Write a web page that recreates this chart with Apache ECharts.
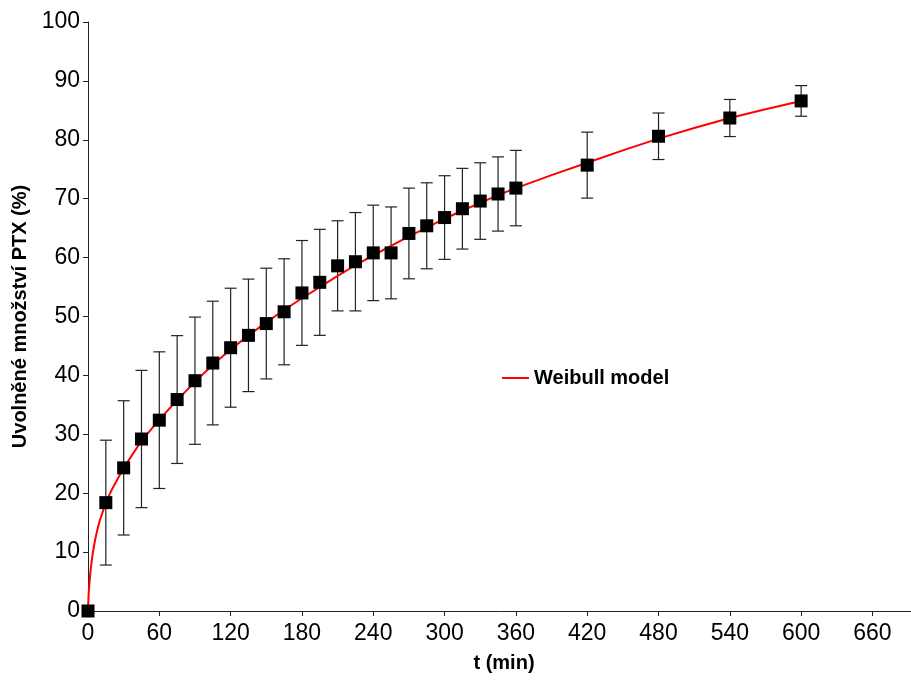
<!DOCTYPE html>
<html>
<head>
<meta charset="utf-8">
<script src="https://cdn.jsdelivr.net/npm/echarts@6/dist/echarts.min.js"></script>
<style>
  html, body { margin: 0; padding: 0; background: #fff; }
  #chart { width: 911px; height: 681px; }
</style>
</head>
<body>
<div id="chart"></div>
<script>
// Sampling times (min)
const times = [0, 15, 30, 45, 60, 75, 90, 105, 120, 135, 150, 165, 180, 195, 210, 225, 240, 255, 270, 285, 300, 315, 330, 345, 360, 420, 480, 540, 600];
// Mean released amount of PTX (%)
const released = [0, 18.4, 24.3, 29.2, 32.4, 35.9, 39.1, 42.1, 44.7, 46.8, 48.8, 50.8, 54.0, 55.8, 58.6, 59.3, 60.8, 60.8, 64.1, 65.4, 66.8, 68.3, 69.6, 70.8, 71.8, 75.7, 80.6, 83.7, 86.6];
// Standard deviation (%)
const sd = [0, 10.6, 11.4, 11.65, 11.6, 10.85, 10.8, 10.5, 10.1, 9.55, 9.4, 9.0, 8.9, 9.0, 7.65, 8.35, 8.1, 7.8, 7.7, 7.3, 7.1, 6.85, 6.5, 6.3, 6.4, 5.6, 3.95, 3.15, 2.6];

// Weibull model curve
const modelT = [0, 0.5, 1, 2, 3, 4, 6, 8, 10, 15, 20, 30, 45, 60, 75, 90, 105, 120, 135, 150, 165, 180, 195, 210, 225, 240, 255, 270, 285, 300, 315, 330, 345, 360, 390, 420, 450, 480, 510, 540, 570, 600];
const modelY = [0, 2.8, 4.2, 6.6, 8.3, 9.8, 12.1, 13.9, 15.4, 18.4, 20.6, 24.3, 28.9, 32.5, 35.8, 38.9, 41.8, 44.4, 46.8, 49.0, 51.1, 53.1, 55.0, 56.9, 58.7, 60.4, 62.0, 63.6, 65.1, 66.6, 68.0, 69.3, 70.6, 71.8, 74.0, 76.1, 78.2, 80.2, 82.0, 83.7, 85.2, 86.6];

const xTicks = { min: 0, max: 700, interval: 60 };
const yTicks = { min: 0, max: 100, interval: 10 };

const FONT = '"Liberation Sans", Arial, sans-serif';

const points = times.map((t, i) => [t, released[i]]);
const bars = times.map((t, i) => [t, released[i] - sd[i], released[i] + sd[i]]);
const model = modelT.map((t, i) => [t, modelY[i]]);

const chart = echarts.init(document.getElementById('chart'), null, { renderer: 'canvas' });

chart.setOption({
  backgroundColor: '#ffffff',
  animation: false,
  // the x axis runs on slightly past the right edge of the canvas
  grid: { left: 88, top: 22, width: 832, height: 589, containLabel: false, outerBoundsMode: 'none' },
  legend: {
    left: 497,
    top: 363,
    data: [{ name: 'Weibull model', icon: 'rect' }],
    itemWidth: 27,
    itemHeight: 2,
    textStyle: { fontFamily: FONT, fontSize: 20, fontWeight: 'bold', color: '#000' }
  },
  xAxis: {
    type: 'value',
    min: xTicks.min,
    max: xTicks.max,
    interval: xTicks.interval,
    name: 't (min)',
    nameLocation: 'middle',
    nameGap: 42,
    nameTextStyle: { fontFamily: FONT, fontSize: 20, fontWeight: 'bold', color: '#000' },
    axisLine: { show: true, onZero: false, lineStyle: { color: '#222', width: 1 } },
    axisTick: { show: true, length: 5, lineStyle: { color: '#222' } },
    axisLabel: { fontFamily: FONT, fontSize: 23, color: '#000', margin: 11, showMaxLabel: false },
    splitLine: { show: false }
  },
  yAxis: {
    type: 'value',
    min: yTicks.min,
    max: yTicks.max,
    interval: yTicks.interval,
    name: 'Uvolněné množství PTX (%)',
    nameLocation: 'middle',
    nameGap: 55,
    nameRotate: 90,
    nameTextStyle: { fontFamily: FONT, fontSize: 20, fontWeight: 'bold', color: '#000' },
    axisLine: { show: true, onZero: false, lineStyle: { color: '#222', width: 1 } },
    axisTick: { show: true, length: 5, lineStyle: { color: '#222' } },
    axisLabel: { fontFamily: FONT, fontSize: 23, color: '#000', margin: 8 },
    splitLine: { show: false }
  },
  series: [
    {
      // vertical error bars with caps
      type: 'custom',
      name: 'sd',
      data: bars,
      z: 2,
      clip: false,
      renderItem: function (params, api) {
        const x = api.value(0);
        const lo = api.coord([x, api.value(1)]);
        const hi = api.coord([x, api.value(2)]);
        const half = 6;
        const style = { stroke: '#222', lineWidth: 1.2, fill: null };
        return {
          type: 'group',
          children: [
            { type: 'line', shape: { x1: lo[0], y1: lo[1], x2: hi[0], y2: hi[1] }, style: style },
            { type: 'line', shape: { x1: hi[0] - half, y1: hi[1], x2: hi[0] + half, y2: hi[1] }, style: style },
            { type: 'line', shape: { x1: lo[0] - half, y1: lo[1], x2: lo[0] + half, y2: lo[1] }, style: style }
          ]
        };
      }
    },
    {
      type: 'line',
      name: 'Weibull model',
      data: model,
      showSymbol: false,
      smooth: false,
      z: 3,
      lineStyle: { color: '#ff0000', width: 2 },
      itemStyle: { color: '#ff0000' }
    },
    {
      type: 'scatter',
      name: 'data',
      data: points,
      symbol: 'rect',
      symbolSize: 13,
      clip: false,
      z: 4,
      itemStyle: { color: '#000', borderWidth: 0, opacity: 1 }
    }
  ]
});
</script>
</body>
</html>
